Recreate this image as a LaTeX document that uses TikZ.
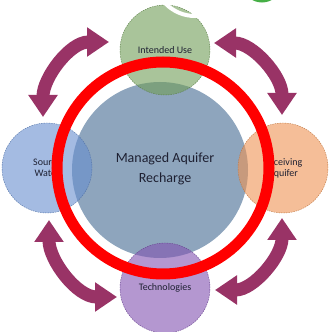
\documentclass[tikz,border=0pt]{standalone}
\usepackage{fontspec}
\setmainfont{Carlito}
\usetikzlibrary{arrows.meta}

\definecolor{hubblue}{RGB}{142,165,189}
\definecolor{usegreen}{RGB}{112,157,87}
\definecolor{srcblue}{RGB}{103,142,207}
\definecolor{aqforange}{RGB}{238,147,83}
\definecolor{techpurple}{RGB}{130,82,177}
\definecolor{arrowplum}{RGB}{153,51,102}
\definecolor{labelink}{RGB}{30,32,50}
\definecolor{markgreen}{RGB}{70,175,70}

\begin{document}
\begin{tikzpicture}[
  x=1pt, y=1pt,
  hub/.style={circle, fill=hubblue, minimum size=176pt, inner sep=0pt},
  hubtext/.style={font=\fontsize{14}{20}\selectfont, align=center, text=labelink},
  sat/.style={circle, minimum size=90pt, inner sep=0pt,
              fill=#1, fill opacity=0.6, text opacity=1,
              draw=#1!80!black, dash pattern=on 1.5pt off 1pt, line width=0.4pt,
              font=\fontsize{10}{11}\selectfont, align=center, text=labelink},
  cycarrow/.style={draw=arrowplum, line width=13pt,
                   {Triangle[length=22pt,width=28pt]}-{Triangle[length=22pt,width=28pt]}},
  ring/.style={draw=red, line width=11pt},
]
  \useasboundingbox (0,0) rectangle (333,332);
  \clip (0,0) rectangle (333,332);

  % centre circle
  \node[hub] (mar) at (160,162) {};
  \node[hubtext] (martext) at (165,163) {Managed Aquifer\\Recharge};

  % four satellites
  \node[sat=usegreen]   (use)  at (165,282) {Intended Use};
  \node[sat=srcblue]    (src)  at (47,164)  {Source\\Water};
  \node[sat=aqforange]  (aqf)  at (283,164) {Receiving\\Aquifer};
  \node[sat=techpurple] (tech) at (165,44)  {Technologies};

  % arrow tips between the satellites
  \coordinate (tlA) at (109,290);
  \coordinate (tlB) at (43,215);
  \coordinate (trA) at (214,289);
  \coordinate (trB) at (282,217);
  \coordinate (blA) at (49,112);
  \coordinate (blB) at (117,35);
  \coordinate (brA) at (282,114);
  \coordinate (brB) at (215,42);

  \draw[cycarrow] (tlA) to[out=180, in=90]  (tlB);
  \draw[cycarrow] (trA) to[out=0,   in=90]  (trB);
  \draw[cycarrow] (blA) to[out=270, in=180] (blB);
  \draw[cycarrow] (brA) to[out=270, in=0]   (brB);

  % red highlight ring
  \draw[ring] (163,164) circle[radius=106];

  % marks at the top edge
  \draw[white, line width=4pt] (195,357) circle[radius=41];
  \draw[markgreen, line width=3pt] (262,350) circle[radius=19];
\end{tikzpicture}
\end{document}
